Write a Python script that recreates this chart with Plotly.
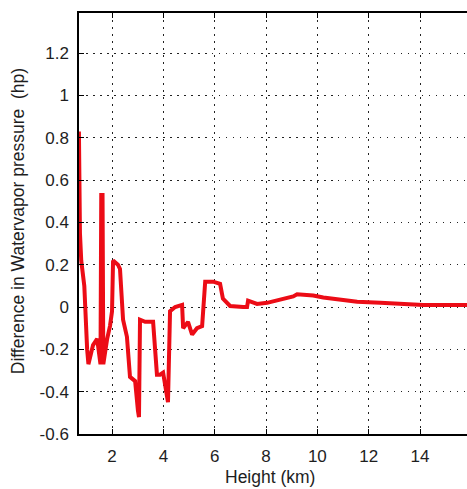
import plotly.graph_objects as go

height_km = [0.71, 0.75, 0.80, 0.92, 1.03, 1.08, 1.26, 1.42, 1.55, 1.58, 1.63, 1.66,
             1.81, 1.92, 2.00, 2.04, 2.23, 2.31, 2.43, 2.58, 2.70, 2.90, 3.01, 3.05,
             3.09, 3.29, 3.60, 3.75, 3.87, 3.99, 4.18, 4.26, 4.46, 4.73, 4.77, 4.96,
             5.12, 5.31, 5.51, 5.63, 5.94, 6.21, 6.32, 6.48, 6.60, 7.11, 7.26, 7.30,
             7.50, 7.65, 8.04, 8.43, 8.82, 9.06, 9.21, 9.84, 10.23, 10.77, 11.55,
             12.45, 13.35, 14.13, 16.0]
diff_wvp = [0.83, 0.35, 0.22, 0.10, -0.20, -0.27, -0.18, -0.15, -0.27, 0.53, 0.53, -0.27,
            -0.15, -0.09, -0.02, 0.22, 0.20, 0.18, -0.06, -0.14, -0.33, -0.35, -0.49, -0.52,
            -0.06, -0.07, -0.07, -0.32, -0.32, -0.31, -0.45, -0.02, 0.0, 0.01, -0.10, -0.07,
            -0.13, -0.10, -0.09, 0.12, 0.12, 0.11, 0.04, 0.02, 0.005, 0.0, 0.0, 0.03,
            0.02, 0.015, 0.02, 0.03, 0.04, 0.05, 0.06, 0.055, 0.045, 0.035, 0.025,
            0.02, 0.015, 0.01, 0.01]

x_ticks = [2, 4, 6, 8, 10, 12, 14]
y_ticks = [-0.6, -0.4, -0.2, 0, 0.2, 0.4, 0.6, 0.8, 1, 1.2]
y_labels = ["-0.6", "-0.4", "-0.2", "0", "0.2", "0.4", "0.6", "0.8", "1", "1.2"]

FONT = "Liberation Sans, Arial, sans-serif"
TXT = "#1e1e1e"

fig = go.Figure()
fig.add_trace(go.Scatter(x=height_km, y=diff_wvp, mode="lines",
                         line=dict(color="rgb(236,12,22)", width=4),
                         showlegend=False, hoverinfo="skip"))
# invisible trace for top axis
fig.add_trace(go.Scatter(x=[height_km[0]], y=[0], xaxis="x2", mode="markers",
                         marker=dict(opacity=0), showlegend=False, hoverinfo="skip"))

xr = [0.713, 15.83]
yr = [-0.6, 1.39]

fig.update_layout(
    width=467, height=489,
    margin=dict(l=79, r=0, t=13, b=55),
    paper_bgcolor="white", plot_bgcolor="white",
    font=dict(family=FONT, size=17, color=TXT),
    xaxis=dict(range=xr, tickvals=x_ticks, ticktext=[str(v) for v in x_ticks],
               showgrid=True, gridcolor="#222", gridwidth=1, griddash="1.5px,5.5px",
               showline=True, linecolor="black", linewidth=1.5,
               ticks="inside", ticklen=5, tickcolor="black", zeroline=False,
               ticklabelstandoff=6,
               tickfont=dict(size=17, family=FONT, color=TXT)),
    xaxis2=dict(range=xr, overlaying="x", side="top", tickvals=x_ticks,
                showticklabels=False, showgrid=False, showline=True,
                linecolor="black", linewidth=1.5, ticks="inside", ticklen=5,
                tickcolor="black", zeroline=False),
    yaxis=dict(range=yr, tickvals=y_ticks, ticktext=y_labels,
               showgrid=True, gridcolor="#222", gridwidth=1, griddash="1.5px,5.5px",
               showline=True, linecolor="black", linewidth=1.5,
               ticks="inside", ticklen=5, tickcolor="black", zeroline=False,
               ticklabelstandoff=5,
               tickfont=dict(size=17, family=FONT, color=TXT)),
    annotations=[
        dict(text="Difference in Watervapor pressure  (hp)", textangle=-90,
             xref="paper", yref="paper", x=-0.155, y=0.505, xanchor="center",
             yanchor="middle", showarrow=False, font=dict(size=17.5, family=FONT, color=TXT)),
        dict(text="Height (km)", xref="paper", yref="paper", x=0.492, y=-0.103,
             xanchor="center", yanchor="middle", showarrow=False,
             font=dict(size=17.5, family=FONT, color=TXT)),
    ],
)

fig.write_html("out.html")
